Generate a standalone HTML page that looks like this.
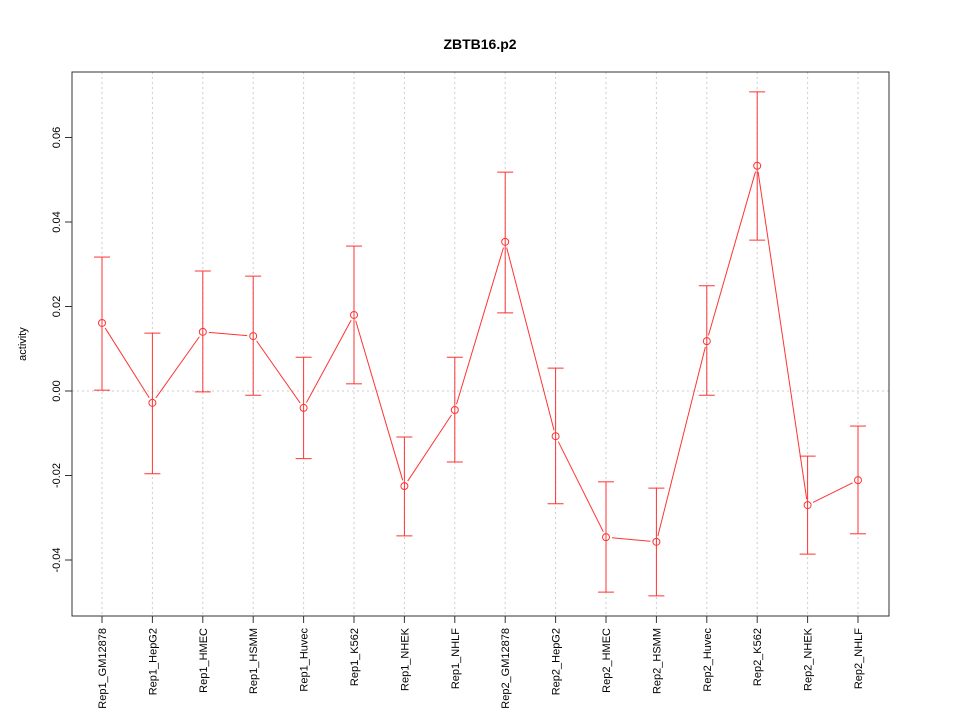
<!DOCTYPE html>
<html><head><meta charset="utf-8"><style>body{margin:0;background:#fff}svg{display:block;font-family:"Liberation Sans",sans-serif}</style></head>
<body>
<svg id="chart" width="960" height="720"></svg>
<script>
const categories=["Rep1_GM12878","Rep1_HepG2","Rep1_HMEC","Rep1_HSMM","Rep1_Huvec","Rep1_K562","Rep1_NHEK","Rep1_NHLF","Rep2_GM12878","Rep2_HepG2","Rep2_HMEC","Rep2_HSMM","Rep2_Huvec","Rep2_K562","Rep2_NHEK","Rep2_NHLF"];
const values=[0.0161,-0.0028,0.014,0.013,-0.004,0.018,-0.0225,-0.0045,0.0353,-0.0107,-0.0346,-0.0357,0.0118,0.0533,-0.027,-0.0211];
const upper=[0.0317,0.0137,0.0284,0.0272,0.008,0.0343,-0.0109,0.008,0.0518,0.0054,-0.0215,-0.023,0.0249,0.0708,-0.0154,-0.0083];
const lower=[0.0002,-0.0196,-0.0002,-0.001,-0.016,0.0017,-0.0343,-0.0168,0.0185,-0.0267,-0.0476,-0.0485,-0.001,0.0357,-0.0386,-0.0338];
const yTicks=[-0.04,-0.02,0,0.02,0.04,0.06];
const yLabels=["-0.04","-0.02","0.00","0.02","0.04","0.06"];
const svg=document.getElementById('chart');
const NS='http://www.w3.org/2000/svg';
function mk(t,a,p){const e=document.createElementNS(NS,t);for(const k in a)e.setAttribute(k,a[k]);(p||svg).appendChild(e);return e;}
const L=72,R=889,T=72,B=616;
const xs=i=>102+i*(858-102)/(categories.length-1);
const ys=v=>391-v*4225;
const t=mk('text',{x:480,y:49,'text-anchor':'middle','font-size':14,'font-weight':'bold'});t.textContent='ZBTB16.p2';


const yt=mk('text',{x:0,y:0,transform:'translate(26,344) rotate(-90)','text-anchor':'middle','font-size':11});yt.textContent='activity';


categories.forEach((c,i)=>{
 const g=mk('line',{x1:xs(i),x2:xs(i),y1:T,y2:B,stroke:'#ccc','stroke-dasharray':'2,3'});
 
 
 mk('line',{x1:xs(i),x2:xs(i),y1:B,y2:B+7,stroke:'#333'});
 const tx=mk('text',{x:0,y:0,transform:`translate(${xs(i)+4},${B+12}) rotate(-90)`,'text-anchor':'end','font-size':11});tx.textContent=c;
 
 
});
const z=mk('line',{x1:L,x2:R,y1:ys(0),y2:ys(0),stroke:'#ccc','stroke-dasharray':'2,3'});


yTicks.forEach((v,i)=>{
 mk('line',{x1:L-7,x2:L,y1:ys(v),y2:ys(v),stroke:'#333'});
 const tx=mk('text',{x:0,y:0,transform:`translate(${L-12},${ys(v)}) rotate(-90)`,'text-anchor':'middle','font-size':11});tx.textContent=yLabels[i];
 
 
});
const box=mk('rect',{x:L,y:T,width:R-L,height:B-T,fill:'none',stroke:'#333'});


values.forEach((v,i)=>{
 const x=xs(i);
 const e=mk('g',{stroke:'#f33','stroke-width':1});
 
 
 mk('line',{x1:x,x2:x,y1:ys(upper[i]),y2:ys(lower[i])},e);
 mk('line',{x1:x-8,x2:x+8,y1:ys(upper[i]),y2:ys(upper[i])},e);
 mk('line',{x1:x-8,x2:x+8,y1:ys(lower[i]),y2:ys(lower[i])},e);
 if(i>0){
  const x0=xs(i-1),y0=ys(values[i-1]),y1=ys(v),dx=x-x0,dy=y1-y0,d=Math.hypot(dx,dy),g=6;
  const s=mk('line',{x1:x0+dx*g/d,y1:y0+dy*g/d,x2:x-dx*g/d,y2:y1-dy*g/d,stroke:'#f33'});
  
  
 }
 const p=mk('circle',{cx:x,cy:ys(v),r:3.5,fill:'none',stroke:'#f33'});
 
 
});
</script>
</body></html>
